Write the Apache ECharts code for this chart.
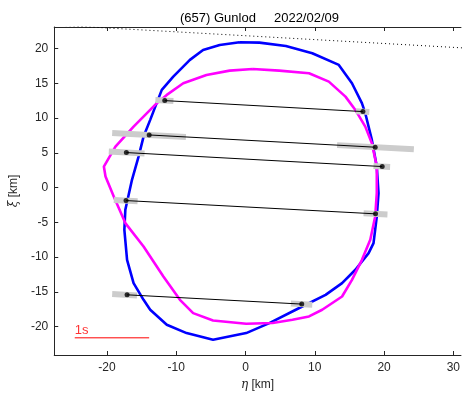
<!DOCTYPE html>
<html>
<head>
<meta charset="utf-8">
<script src="https://cdn.jsdelivr.net/npm/echarts@6/dist/echarts.min.js"></script>
<style>
  html, body { margin: 0; padding: 0; background: #fff; }
  #main { width: 463px; height: 397px; }
</style>
</head>
<body>
<div id="main"></div>
<script>
// shape model contour (blue), [eta, xi]
var blueContour = [
  [-0.86, 20.89], [2.01, 20.83], [5.83, 20.36], [9.64, 19.31], [13.47, 17.63],
  [15.37, 15.0], [16.8, 12.13], [17.29, 10.69], [18.24, 6.85], [18.95, 3.02],
  [19.2, -0.8], [18.95, -4.17], [18.48, -7.99], [17.77, -9.43], [15.86, -11.82],
  [13.94, -13.74], [11.56, -15.42], [7.26, -17.57], [3.44, -19.48], [0.1, -20.92],
  [-4.68, -21.88], [-8.5, -20.92], [-11.36, -19.73], [-13.75, -17.57], [-14.71, -16.14],
  [-16.15, -13.74], [-17.09, -10.39], [-17.48, -6.08], [-17.34, -3.2], [-16.38, 1.11],
  [-15.43, 4.45], [-14.71, 7.33], [-13.75, 9.73], [-12.08, 14.04], [-10.42, 15.95],
  [-8.02, 18.35], [-6.12, 19.78], [-3.72, 20.5], [-0.86, 20.89]
];

// second shape model contour (magenta)
var magentaContour = [
  [1.05, 17.05], [4.87, 16.81], [9.17, 16.44], [12.03, 15.23], [14.43, 13.07],
  [15.86, 11.16], [17.29, 8.76], [18.24, 6.38], [18.95, 3.02], [18.95, -0.8],
  [18.72, -4.17], [18.01, -7.51], [16.81, -10.39], [15.37, -13.26], [13.94, -15.66],
  [11.07, -17.57], [9.17, -18.53], [6.78, -19.01], [3.91, -19.48], [0.1, -19.58],
  [-4.68, -19.11], [-7.55, -18.05], [-9.46, -16.14], [-11.85, -12.79], [-14.71, -8.48],
  [-17.34, -5.11], [-19.01, -1.29], [-20.2, 1.58], [-20.44, 3.02], [-18.77, 5.89],
  [-16.15, 8.76], [-12.79, 12.13], [-11.36, 13.32], [-8.98, 15.0], [-5.63, 16.19],
  [-2.29, 16.81], [1.05, 17.05]
];

// chord end points (disappearance / reappearance)
var chordStart = [[-11.65, 12.5], [-13.9, 7.56], [-17.19, 5.03], [-17.24, -1.87], [-17.09, -15.42]];
var chordEnd   = [[16.95, 10.92], [18.72, 5.8], [19.73, 3.02], [18.77, -3.78], [8.12, -16.75]];

// timing uncertainty bars at each end
var errStart = [
  [[-13.0, 12.57], [-10.4, 12.43]],
  [[-19.24, 7.85], [-8.6, 7.27]],
  [[-19.73, 5.17], [-14.57, 4.89]],
  [[-19.0, -1.78], [-15.57, -1.96]],
  [[-19.24, -15.31], [-15.66, -15.5]]
];
var errEnd = [
  [[15.95, 10.98], [17.87, 10.87]],
  [[13.22, 6.1], [24.3, 5.5]],
  [[18.48, 3.09], [20.87, 2.96]],
  [[17.05, -3.69], [20.49, -3.87]],
  [[6.55, -16.67], [9.64, -16.83]]
];

// negative chord (dotted)
var missChord = [[-30, 23.5], [32, 20.04]];

// 1 s scale bar
var scaleBar = [[-24.64, -21.6], [-13.9, -21.6]];

var xTicks = [-20, -10, 0, 10, 20, 30];
var yTicks = [-20, -15, -10, -5, 0, 5, 10, 15, 20];

var axisColor = '#262626';
var font = 'Liberation Sans, Arial, Helvetica, sans-serif';

var chart = echarts.init(document.getElementById('main'));

var series = [];

series.push({
  type: 'line', data: blueContour, showSymbol: false, symbol: 'none',
  lineStyle: { color: '#0000ff', width: 2.6 }, z: 2, silent: true
});
series.push({
  type: 'line', data: magentaContour, showSymbol: false, symbol: 'none',
  lineStyle: { color: '#ff00ff', width: 2.6 }, z: 2, silent: true
});

errStart.concat(errEnd).forEach(function (e) {
  series.push({
    type: 'line', data: e, symbol: 'none',
    lineStyle: { color: '#cccccc', width: 6, cap: 'butt' }, z: 3, silent: true
  });
});

chordStart.forEach(function (p, i) {
  series.push({
    type: 'line', data: [p, chordEnd[i]], symbol: 'none',
    lineStyle: { color: '#000000', width: 1 }, z: 4, silent: true
  });
});

series.push({
  type: 'scatter', data: chordStart.concat(chordEnd), symbolSize: 5,
  itemStyle: { color: '#000000' }, z: 5, silent: true
});

series.push({
  type: 'line', data: missChord, symbol: 'none', clip: true,
  lineStyle: { color: '#000000', width: 1, type: [1, 3] }, z: 4, silent: true
});

series.push({
  type: 'line', data: scaleBar, symbol: 'none',
  lineStyle: { color: '#ff0000', width: 1 }, z: 4, silent: true
});
series.push({
  type: 'scatter', data: [scaleBar[0]], symbolSize: 0, silent: true,
  label: {
    show: true, formatter: '1s', position: [0, -1], align: 'left', verticalAlign: 'bottom',
    color: '#ff0000', fontSize: 13, fontFamily: font
  }
});

option = {
  animation: false,
  backgroundColor: '#ffffff',
  title: {
    text: '(657) Gunlod     2022/02/09',
    left: 175,
    top: 7,
    textStyle: { fontSize: 13, fontWeight: 'normal', color: '#000000', fontFamily: font }
  },
  grid: { left: 53, right: 0, top: 27, bottom: 42 },
  xAxis: [{
    type: 'value', min: -27.6, max: 31.1,
    name: '{i|η} [km]', nameLocation: 'middle', nameGap: 24,
    nameTextStyle: {
      fontSize: 12, color: axisColor, fontFamily: font,
      rich: { i: { fontStyle: 'italic', fontSize: 12, color: axisColor, fontFamily: 'DejaVu Serif' } }
    },
    axisLine: { show: true, onZero: false, lineStyle: { color: axisColor, width: 1 } },
    axisTick: { show: true, inside: true, length: 4, customValues: xTicks, lineStyle: { color: axisColor } },
    axisLabel: { customValues: xTicks, fontSize: 12, color: axisColor, fontFamily: font, margin: 7 },
    splitLine: { show: false }
  }, {
    type: 'value', position: 'top', min: -27.6, max: 31.1,
    axisLine: { show: true, onZero: false, lineStyle: { color: axisColor, width: 1 } },
    axisTick: { show: true, inside: true, length: 4, customValues: xTicks, lineStyle: { color: axisColor } },
    axisLabel: { show: false },
    splitLine: { show: false }
  }],
  yAxis: [{
    type: 'value', min: -24.07, max: 23.08,
    name: '{i|ξ} [km]', nameLocation: 'middle', nameGap: 30,
    nameTextStyle: {
      fontSize: 12, color: axisColor, fontFamily: font,
      rich: { i: { fontStyle: 'italic', fontSize: 12, color: axisColor, fontFamily: 'DejaVu Serif' } }
    },
    axisLine: { show: true, onZero: false, lineStyle: { color: axisColor, width: 1 } },
    axisTick: { show: true, inside: true, length: 4, customValues: yTicks, lineStyle: { color: axisColor } },
    axisLabel: { customValues: yTicks, fontSize: 12, color: axisColor, fontFamily: font, margin: 6 },
    splitLine: { show: false }
  }],
  series: series
};

chart.setOption(option);
</script>
</body>
</html>
